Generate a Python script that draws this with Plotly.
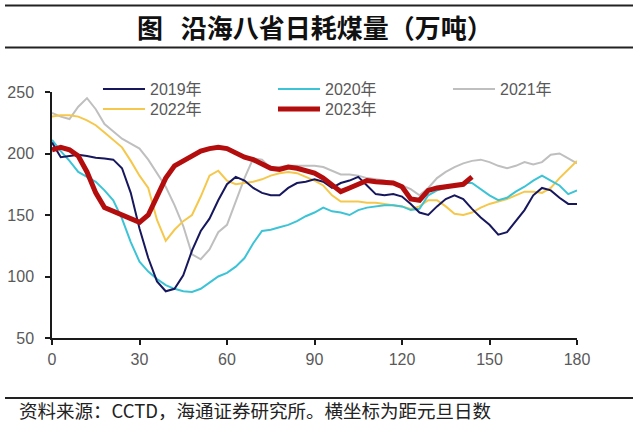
import plotly.graph_objects as go

# ---- data (day offset from Jan 1, daily coal consumption, 10k tons) ----
days = [0, 3, 6, 9, 12, 15, 18, 21, 24, 27, 30, 33, 36, 39, 42, 45, 48, 51, 54, 57,
        60, 63, 66, 69, 72, 75, 78, 81, 84, 87, 90, 93, 96, 99, 102, 105, 108, 111, 114, 117,
        120, 123, 126, 129, 132, 135, 138, 141, 144, 147, 150, 153, 156, 159, 162, 165, 168, 171, 174, 177,
        180]

y2019 = [209, 197, 198, 199, 198, 196.5, 196, 195, 188, 168, 139, 115, 96, 88, 90, 101, 121, 137, 147, 162,
         175, 181, 178, 172, 168, 166, 166, 172, 176, 177, 179, 177, 172, 176, 178, 181, 174, 167, 166, 167,
         165, 159, 152, 150, 157, 163, 166, 163, 155, 148, 142, 134, 136, 145, 154, 166, 172, 170, 164, 159,
         159]

y2020 = [211, 202, 194, 185, 181, 177, 170, 162, 147, 128, 112, 104, 98, 93, 90, 88, 87.5, 90, 95, 100,
         103, 108, 115, 127, 137, 138, 140, 142, 145, 149, 152, 156, 153, 152, 150, 154, 156, 157, 158, 158,
         157, 154, 155, 166, 170, 172, 174, 176, 176, 171, 166, 162, 164, 169, 173, 178, 182, 178, 174, 167,
         170]

y2021 = [233, 230, 228, 238, 245, 236, 224, 218, 212, 208, 204, 195, 184, 173, 158, 141, 118, 114, 122, 136,
         142, 161, 180, 196, 195, 188, 189, 190, 190, 190, 190, 189, 186, 183, 183, 182, 180, 179, 178, 176,
         174, 171, 166, 172, 180, 185, 189, 192, 194, 195, 193, 190, 188, 190, 193, 191, 193, 199, 200, 196,
         192]

y2022 = [230, 231, 231, 230, 227, 223, 217, 211, 205, 194, 182, 172, 146, 129, 138, 145, 150, 165, 182, 186,
         178, 175, 176, 177, 179, 182, 184, 185, 184, 181, 178, 174, 166, 161, 161, 161, 160, 160, 159, 158,
         157, 155, 157, 162, 162, 157, 151, 150, 152, 156, 159, 161, 163, 166, 169, 169, 168, 172, 180, 187,
         194]

days_2023 = [0, 3, 6, 9, 12, 15, 18, 21, 24, 27, 30, 33, 36, 39, 42, 45, 48, 51, 54, 57,
             60, 63, 66, 69, 72, 75, 78, 81, 84, 87, 90, 93, 96, 99, 102, 105, 108, 111, 114, 117,
             120, 123, 126, 129, 132, 135, 138, 141, 144]
y2023 = [203, 205, 203, 198, 185, 168, 156, 153, 151, 148, 144, 150, 165, 180, 190, 194, 198, 202, 204, 205,
         204, 200, 197, 195, 191, 188, 187, 189, 188, 186, 184, 180, 174, 169, 172, 175, 178, 177, 177, 176,
         173, 163, 162, 170, 172, 173, 173, 175, 181]

x_ticks = [0, 30, 60, 90, 120, 150, 180]
y_ticks = [50, 100, 150, 200, 250]

title_text = "图\u00a0\u00a0\u00a0沿海八省日耗煤量（万吨）"
source_text = "资料来源：CCTD，海通证券研究所。横坐标为距元旦日数"

# ---- figure ----
TICK_FONT = "Arial, 'Liberation Sans', sans-serif"
CJK_FONT = "'Noto Sans CJK SC', sans-serif"

fig = go.Figure()

series = [
    # name, x, y, color, width, legend, rank
    ("2021年", days, y2021, "#BFBFBF", 2, "legend", 3),
    ("2022年", days, y2022, "#F5C84C", 2, "legend2", 4),
    ("2020年", days, y2020, "#3CC4D6", 2, "legend", 2),
    ("2019年", days, y2019, "#17175E", 2, "legend", 1),
    ("2023年", days_2023, y2023, "#B40D0D", 5, "legend2", 5),
]
for name, xs, ys, color, w, lg, rank in series:
    fig.add_trace(go.Scatter(
        x=xs, y=ys, mode="lines", name=name,
        line=dict(color=color, width=w),
        legend=lg, legendrank=rank, hoverinfo="skip",
    ))

legend_common = dict(
    orientation="h", xanchor="left", yanchor="top",
    entrywidth=118, entrywidthmode="pixels", itemwidth=42,
    font=dict(size=16, color="#595959", family=TICK_FONT + ", " + CJK_FONT),
    bgcolor="rgba(0,0,0,0)", borderwidth=0,
)

fig.update_layout(
    width=640, height=431,
    paper_bgcolor="white", plot_bgcolor="white",
    margin=dict(l=52, r=63, t=92, b=93, autoexpand=False),
    showlegend=True,
    legend=dict(x=0.0876, y=1.081, **legend_common),
    legend2=dict(x=0.0876, y=1.0, **legend_common),
    xaxis=dict(
        range=[0, 180], tickmode="array", tickvals=x_ticks,
        showline=True, linecolor="#1a1a1a", linewidth=1.5,
        ticks="outside", ticklen=5, tickwidth=1.5, tickcolor="#1a1a1a",
        showgrid=False, zeroline=False,
        tickfont=dict(size=16, color="#595959", family=TICK_FONT),
        ticklabelstandoff=1,
    ),
    yaxis=dict(
        range=[50, 250], tickmode="array", tickvals=y_ticks,
        showline=True, linecolor="#1a1a1a", linewidth=1.5,
        ticks="outside", ticklen=5, tickwidth=1.5, tickcolor="#1a1a1a",
        showgrid=False, zeroline=False,
        tickfont=dict(size=16, color="#595959", family=TICK_FONT),
        ticklabelstandoff=8,
    ),
    annotations=[
        dict(text="<b>" + title_text + "</b>", xref="paper", yref="paper",
             x=(314.5 - 52) / 525, y=(338 - 26.5) / 246, xanchor="center", yanchor="middle",
             showarrow=False, font=dict(size=26, color="#111111", family=CJK_FONT)),
        dict(text=source_text, xref="paper", yref="paper",
             x=(17 - 52) / 525, y=(338 - 410) / 246, xanchor="left", yanchor="middle",
             showarrow=False, font=dict(size=18.5, color="#222222", family=CJK_FONT)),
    ],
    shapes=[
        dict(type="line", xref="paper", yref="paper",
             x0=(5 - 52) / 525, x1=(633 - 52) / 525, y0=(338 - 5.5) / 246, y1=(338 - 5.5) / 246,
             line=dict(color="#222222", width=1.8)),
        dict(type="line", xref="paper", yref="paper",
             x0=(5 - 52) / 525, x1=(633 - 52) / 525, y0=(338 - 47.5) / 246, y1=(338 - 47.5) / 246,
             line=dict(color="#222222", width=1.8)),
        dict(type="line", xref="paper", yref="paper",
             x0=(5 - 52) / 525, x1=(633 - 52) / 525, y0=(338 - 398) / 246, y1=(338 - 398) / 246,
             line=dict(color="#222222", width=1.8)),
    ],
)

fig.write_html(
    "out.html",
    config={"displayModeBar": False},
    post_script="document.body.style.margin='0px';document.body.style.padding='0px';",
)
